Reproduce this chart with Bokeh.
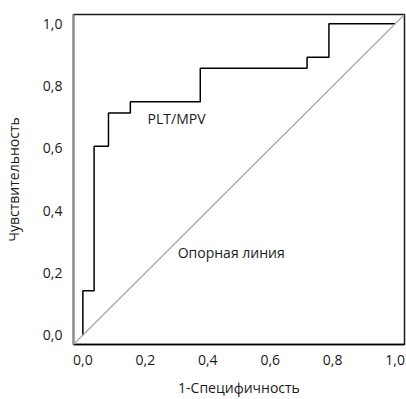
from bokeh.plotting import figure
from bokeh.models import Range1d, FixedTicker, Slope, CustomJSTickFormatter
from bokeh.core.properties import value
from bokeh.embed import file_html
from bokeh.resources import INLINE

# ROC curve vertices (1-specificity, sensitivity)
fpr = [0.0, 0.0, 0.036, 0.036, 0.082, 0.082, 0.152, 0.152, 0.376, 0.376, 0.718, 0.718, 0.788, 0.788, 1.0]
tpr = [0.0, 0.143, 0.143, 0.607, 0.607, 0.714, 0.714, 0.750, 0.750, 0.857, 0.857, 0.893, 0.893, 1.0, 1.0]
tick_values = [0.0, 0.2, 0.4, 0.6, 0.8, 1.0]
curve_label = "PLT/MPV"
ref_label = "Опорная линия"
x_title = "1-Специфичность"
y_title = "Чувствительность"

FONT = "Open Sans"
FS = "14px"

xr = Range1d(-0.03, 1.03)
yr = Range1d(-0.03, 1.03)
p = figure(width=406, height=399, output_backend="svg", toolbar_location=None,
           x_range=xr, y_range=yr,
           x_axis_label=x_title, y_axis_label=y_title,
           min_border_left=72, min_border_right=2, min_border_top=14, min_border_bottom=53)
p.outline_line_color = "#1a1a1a"
p.outline_line_width = 1.5
p.grid.grid_line_color = None

fmt = CustomJSTickFormatter(code="return tick.toFixed(1).replace('.', ',');")

def style_axis(ax, color, width):
    ax.ticker = FixedTicker(ticks=tick_values)
    ax.formatter = fmt
    ax.axis_line_color = color
    ax.axis_line_width = width
    ax.major_tick_out = 0
    ax.major_tick_in = 0
    ax.minor_tick_out = 0
    ax.minor_tick_in = 0
    ax.major_label_text_font = FONT
    ax.major_label_text_font_size = FS
    ax.major_label_text_color = "#1a1a1a"
    ax.axis_label_text_font = FONT
    ax.axis_label_text_font_size = FS
    ax.axis_label_text_font_style = "normal"
    ax.axis_label_text_color = "#1a1a1a"

left = p.yaxis[0]
style_axis(left, "#8c8c8c", 2)
left.major_label_standoff = 11
left.axis_label_standoff = 17

below = p.xaxis[0]
style_axis(below, "black", 1.5)
below.major_label_standoff = 10
below.axis_label_standoff = 10

# Reference diagonal
p.add_layout(Slope(gradient=1, y_intercept=0, line_color="#a6a6a6", line_width=1.2))

# ROC curve
p.line(fpr, tpr, line_color="black", line_width=1.5)

p.text(x=[0.30], y=[0.695], text=[curve_label], text_align="center", text_baseline="middle",
       text_font=value(FONT), text_font_size=FS, text_color="#1a1a1a")
p.text(x=[0.475], y=[0.264], text=[ref_label], text_align="center", text_baseline="middle",
       text_font=value(FONT), text_font_size=FS, text_color="#1a1a1a")

open("out.html", "w").write(file_html(p, INLINE))
